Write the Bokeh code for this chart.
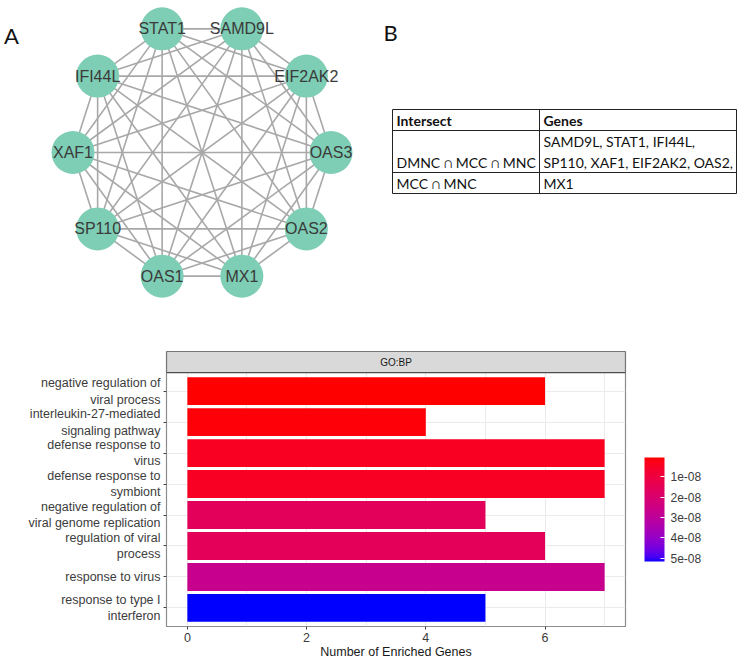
import math
from bokeh.plotting import figure
from bokeh.layouts import column
from bokeh.models import (Range1d, ColumnDataSource, FixedTicker, LinearColorMapper,
                          ColorBar, Label, CustomJSTickFormatter)
from bokeh.core.properties import value
from bokeh.embed import file_html
from bokeh.resources import INLINE

# ---------------- data ----------------
# Panel A: PPI network (nodes in circular order, starting at 3 o'clock, counter-clockwise)
genes = ["OAS3", "EIF2AK2", "SAMD9L", "STAT1", "IFI44L", "XAF1", "SP110", "OAS1", "MX1", "OAS2"]
edges = [(a, b) for i, a in enumerate(genes) for b in genes[i + 1:]]

# Panel B: table
table_header = ["Intersect", "Genes"]
table_intersect = ["DMNC \u2229 MCC \u2229 MNC", "MCC \u2229 MNC"]
table_genes = [["SAMD9L, STAT1, IFI44L,", "SP110, XAF1, EIF2AK2, OAS2,"], ["MX1"]]

# Panel C: GO:BP enrichment (top to bottom)
terms = ["negative regulation of\nviral process",
         "interleukin-27-mediated\nsignaling pathway",
         "defense response to\nvirus",
         "defense response to\nsymbiont",
         "negative regulation of\nviral genome replication",
         "regulation of viral\nprocess",
         "response to virus",
         "response to type I\ninterferon"]
counts = [6, 4, 7, 7, 5, 6, 7, 5]
p_adjust = [7.0e-10, 1.4e-9, 4.5e-9, 4.8e-9, 1.6e-8, 1.55e-8, 2.7e-8, 5.15e-8]
x_ticks = [0, 2, 4, 6]
x_minor = [1, 3, 5, 7]
cbar_ticks = [1e-8, 2e-8, 3e-8, 4e-8, 5e-8]
facet_label = "GO:BP"
legend_title = "p.adjust"

# ---------------- colour ramp (CIELAB, blue -> red) ----------------
def _to_lin(c):
    c = c / 255.0
    return c / 12.92 if c <= 0.04045 else ((c + 0.055) / 1.055) ** 2.4

def _to_srgb(c):
    c = min(1.0, max(0.0, c))
    v = 12.92 * c if c <= 0.0031308 else 1.055 * c ** (1 / 2.4) - 0.055
    return int(round(v * 255))

_Wn = (0.95047, 1.0, 1.08883)
_d = 6 / 29

def _f(t):
    return t ** (1 / 3) if t > _d ** 3 else t / (3 * _d * _d) + 4 / 29

def _finv(t):
    return t ** 3 if t > _d else 3 * _d * _d * (t - 4 / 29)

def rgb2lab(rgb):
    r, g, b = [_to_lin(c) for c in rgb]
    X = 0.4124564 * r + 0.3575761 * g + 0.1804375 * b
    Y = 0.2126729 * r + 0.7151522 * g + 0.0721750 * b
    Z = 0.0193339 * r + 0.1191920 * g + 0.9503041 * b
    fx, fy, fz = _f(X / _Wn[0]), _f(Y / _Wn[1]), _f(Z / _Wn[2])
    return (116 * fy - 16, 500 * (fx - fy), 200 * (fy - fz))

def lab2hex(lab):
    L, a, b = lab
    fy = (L + 16) / 116
    fx = fy + a / 500
    fz = fy - b / 200
    X, Y, Z = _Wn[0] * _finv(fx), _Wn[1] * _finv(fy), _Wn[2] * _finv(fz)
    r = 3.2404542 * X - 1.5371385 * Y - 0.4985314 * Z
    g = -0.9692660 * X + 1.8760108 * Y + 0.0415560 * Z
    bb = 0.0556434 * X - 0.2040259 * Y + 1.0572252 * Z
    return "#%02x%02x%02x" % (_to_srgb(r), _to_srgb(g), _to_srgb(bb))

_lab_blue = rgb2lab((0, 0, 255))
_lab_red = rgb2lab((255, 0, 0))
palette = [lab2hex(tuple(_lab_blue[k] + (_lab_red[k] - _lab_blue[k]) * i / 255 for k in range(3)))
           for i in range(256)]

# ---------------- page geometry ----------------
PAGE_W, PAGE_H = 745, 666
SPLIT = 330
TABLE_FONT = "Lato, DejaVu Sans, sans-serif"

# ---------------- top figure: panels A and B ----------------
top = figure(width=PAGE_W, height=SPLIT, x_range=Range1d(0, PAGE_W), y_range=Range1d(SPLIT, 0),
             output_backend="svg", toolbar_location=None, min_border=0,
             x_axis_type=None, y_axis_type=None, outline_line_color=None)
top.frame_align = False
top.xgrid.visible = False
top.ygrid.visible = False

# network layout
cx, cy, rx, ry = 201.5, 152.0, 129.0, 130.0
pos = {}
for i, g in enumerate(genes):
    ang = math.radians(36 * i)
    pos[g] = (cx + rx * math.cos(ang), cy - ry * math.sin(ang))

top.segment(x0=[pos[a][0] for a, b in edges], y0=[pos[a][1] for a, b in edges],
            x1=[pos[b][0] for a, b in edges], y1=[pos[b][1] for a, b in edges],
            line_color="#a8a8a8", line_width=1.6)
node_src = ColumnDataSource(dict(x=[pos[g][0] for g in genes], y=[pos[g][1] for g in genes], name=genes))
top.scatter(x="x", y="y", size=43, source=node_src, fill_color="#7ecdb5", line_color=None)
top.text(x="x", y="y", text="name", source=node_src, text_align="center", text_baseline="middle",
         text_font=value("Liberation Sans"), text_font_size="16px", text_color="#3a3a3a")

# table
col_x = [392, 539, 736]
row_y = [109, 130, 172, 193]
line_h = 21
pad = 4
top.segment(x0=[col_x[0]] * len(row_y), x1=[col_x[-1]] * len(row_y), y0=row_y, y1=row_y,
            line_color="#222222", line_width=1)
top.segment(x0=col_x, x1=col_x, y0=[row_y[0]] * len(col_x), y1=[row_y[-1]] * len(col_x),
            line_color="#222222", line_width=1)
top.text(x=[c + pad for c in col_x[:2]], y=[(row_y[0] + row_y[1]) / 2] * 2, text=table_header,
         text_align="left", text_baseline="middle", text_font=value(TABLE_FONT),
         text_font_size="14px", text_font_style="bold", text_color="#111111")
tx, ty, tt = [], [], []
for r, (inter, glines) in enumerate(zip(table_intersect, table_genes)):
    bottom = row_y[r + 2]
    last = bottom - line_h / 2
    tx.append(col_x[0] + pad); ty.append(last); tt.append(inter)
    n = len(glines)
    for k, gl in enumerate(glines):
        tx.append(col_x[1] + pad); ty.append(last - (n - 1 - k) * line_h); tt.append(gl)
top.text(x=tx, y=ty, text=tt, text_align="left", text_baseline="middle",
         text_font=value(TABLE_FONT), text_font_size="14px", text_color="#111111")

# panel letters
top.text(x=[11, 390], y=[35, 32], text=["A", "B"], text_align="center", text_baseline="middle",
         text_font=value("Lato"), text_font_size="22px", text_color="#111111")

# ---------------- bottom figure: panel C ----------------
n = len(terms)
ypos = list(range(n, 0, -1))
y_lo, y_hi = 0.4, n + 0.6
strip_h = 0.68
x_lo, x_hi = -0.35, 7.35

bot = figure(width=PAGE_W, height=PAGE_H - SPLIT, x_range=Range1d(x_lo, x_hi),
             y_range=Range1d(y_lo, y_hi + strip_h),
             output_backend="svg", toolbar_location=None,
             min_border_left=166, min_border_right=120, min_border_top=21, min_border_bottom=40,
             outline_line_color="#8c8c8c", outline_line_width=1.2)
bot.frame_align = False

mapper = LinearColorMapper(palette=palette, low=max(p_adjust), high=min(p_adjust))
src = ColumnDataSource(dict(y=ypos, count=counts, p=p_adjust, term=terms))
bot.hbar(y="y", right="count", left=0, height=0.9, source=src,
         fill_color={"field": "p", "transform": mapper}, line_color=None)

# facet strip
bot.quad(left=[x_lo], right=[x_hi], bottom=[y_hi], top=[y_hi + strip_h],
         fill_color="#d9d9d9", line_color="#4d4d4d", line_width=1.2)
bot.text(x=[(x_lo + x_hi) / 2], y=[y_hi + strip_h / 2], text=[facet_label], text_align="center",
         text_baseline="middle", text_font=value("Liberation Sans"), text_font_size="10px",
         text_color="#1a1a1a")

bot.xaxis.ticker = FixedTicker(ticks=x_ticks, minor_ticks=x_minor)
bot.yaxis.ticker = FixedTicker(ticks=ypos)
bot.yaxis.major_label_overrides = {yy: t for yy, t in zip(ypos, terms)}
for ax in (bot.xaxis, bot.yaxis):
    ax.axis_line_color = None
    ax.minor_tick_line_color = None
    ax.major_tick_line_color = "#444444"
    ax.major_tick_out = 3
    ax.major_tick_in = 0
    ax.major_label_text_font = "Liberation Sans"
    ax.major_label_text_font_size = "12.5px"
    ax.major_label_text_color = "#3c3c3c"
bot.xaxis.major_label_standoff = 2
bot.yaxis.major_label_standoff = 3
bot.xaxis.axis_label = "Number of Enriched Genes"
bot.xaxis.axis_label_text_font = "Liberation Sans"
bot.xaxis.axis_label_text_font_size = "12.5px"
bot.xaxis.axis_label_text_font_style = "normal"
bot.xaxis.axis_label_text_color = "#1a1a1a"
bot.xaxis.axis_label_standoff = 0

bot.xgrid.grid_line_color = "#ebebeb"
bot.xgrid.minor_grid_line_color = "#ebebeb"
bot.ygrid.grid_line_color = "#ebebeb"

cb = ColorBar(color_mapper=mapper, ticker=FixedTicker(ticks=cbar_ticks),
              formatter=CustomJSTickFormatter(code="var s = tick.toExponential(0); return s.replace(/e-(\\d)$/, function(m, d){ return 'e-0' + d; });"),
              width=20, height=104, location=(478, 65), margin=0, padding=0,
              major_label_text_font="Liberation Sans", major_label_text_font_size="12px",
              major_label_text_color="#3c3c3c", label_standoff=6,
              major_tick_line_color="white", major_tick_in=4, major_tick_out=0,
              minor_tick_line_color=None, bar_line_color=None, border_line_color=None,
              background_fill_color=None)
bot.add_layout(cb, "center")
bot.add_layout(Label(x=478, y=182, x_units="screen", y_units="screen", text=legend_title,
                     text_align="left", text_baseline="middle", text_font="Liberation Sans",
                     text_font_size="13px", text_color="#1a1a1a"))

bot.add_layout(Label(x=-155, y=272, x_units="screen", y_units="screen", text="C",
                     text_align="center", text_baseline="middle", text_font="Lato",
                     text_font_size="22px", text_color="#111111"))

layout = column(top, bot, spacing=0)
open("out.html", "w").write(file_html(layout, INLINE))
